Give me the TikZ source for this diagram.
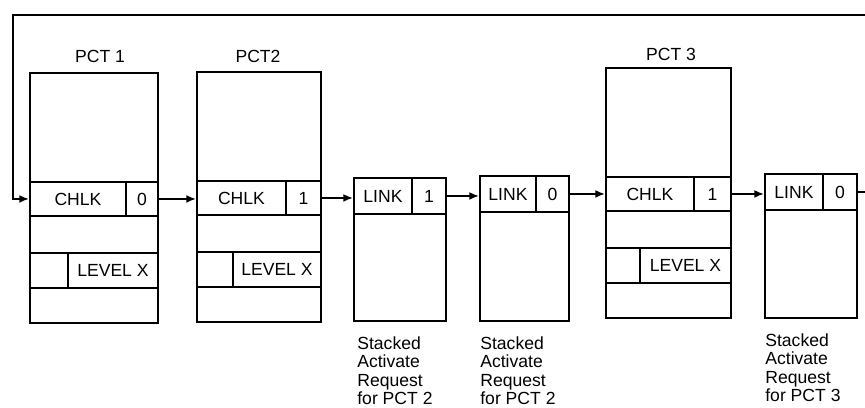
\documentclass[tikz,border=0pt]{standalone}
\usepackage{fontspec}
\setmainfont{Liberation Sans}
\usetikzlibrary{arrows.meta}

\tikzset{
  boxline/.style={draw, line width=1.1pt, inner sep=0pt, anchor=north west},
  cell/.style={boxline, font=\fontsize{10}{12}\selectfont},
  title/.style={font=\fontsize{10}{12}\selectfont},
  caption/.style={anchor=north west, align=left, inner sep=0pt, font=\fontsize{10}{10.6}\selectfont},
  link/.style={line width=1pt, -{Latex[length=5.5pt,width=4.5pt]}}
}

\begin{document}
\begin{tikzpicture}[x=0.02cm, y=-0.02cm]
    \useasboundingbox (0,0) rectangle (865,408);

    % PCT 1
    \node[title] (tA) at (100,56) {PCT 1};
    \node[boxline, minimum width=2.56cm, minimum height=5cm] (pctA) at (29,72) {};
    \node[cell, minimum width=1.92cm, minimum height=0.68cm] (chlkA) at (29,181) {CHLK};
    \node[cell, minimum width=0.64cm, minimum height=0.68cm] (flagA) at (125,181) {0};
    \node[cell, minimum width=0.76cm, minimum height=0.70cm] (spareA) at (29,252) {};
    \node[cell, minimum width=1.80cm, minimum height=0.70cm] (levelA) at (67,252) {LEVEL X};

    % PCT2
    \node[title] (tB) at (258,56) {PCT2};
    \node[boxline, minimum width=2.48cm, minimum height=5cm] (pctB) at (196,71) {};
    \node[cell, minimum width=1.78cm, minimum height=0.68cm] (chlkB) at (196,180) {CHLK};
    \node[cell, minimum width=0.70cm, minimum height=0.68cm] (flagB) at (285,180) {1};
    \node[cell, minimum width=0.72cm, minimum height=0.70cm] (spareB) at (196,251) {};
    \node[cell, minimum width=1.76cm, minimum height=0.70cm] (levelB) at (232,251) {LEVEL X};

    % Stacked request 1
    \node[boxline, minimum width=1.84cm, minimum height=2.86cm] (reqA) at (353,177) {};
    \node[cell, minimum width=1.16cm, minimum height=0.72cm] (linkA) at (353,177) {LINK};
    \node[cell, minimum width=0.68cm, minimum height=0.72cm] (lflagA) at (411,177) {1};
    \node[caption] (capA) at (357,336) {Stacked\\Activate\\Request\\for PCT 2};

    % Stacked request 2
    \node[boxline, minimum width=1.78cm, minimum height=2.90cm] (reqB) at (479,175) {};
    \node[cell, minimum width=1.12cm, minimum height=0.72cm] (linkB) at (479,175) {LINK};
    \node[cell, minimum width=0.66cm, minimum height=0.72cm] (lflagB) at (535,175) {0};
    \node[caption] (capB) at (480,336) {Stacked\\Activate\\Request\\for PCT 2};

    % PCT 3
    \node[title] (tC) at (671,54) {PCT 3};
    \node[boxline, minimum width=2.50cm, minimum height=5cm] (pctC) at (605,67) {};
    \node[cell, minimum width=1.76cm, minimum height=0.68cm] (chlkC) at (605,176) {CHLK};
    \node[cell, minimum width=0.74cm, minimum height=0.68cm] (flagC) at (693,176) {1};
    \node[cell, minimum width=0.68cm, minimum height=0.70cm] (spareC) at (605,247) {};
    \node[cell, minimum width=1.82cm, minimum height=0.70cm] (levelC) at (639,247) {LEVEL X};

    % Stacked request 3
    \node[boxline, minimum width=1.84cm, minimum height=2.88cm] (reqC) at (764,173) {};
    \node[cell, minimum width=1.16cm, minimum height=0.72cm] (linkC) at (764,173) {LINK};
    \node[cell, minimum width=0.68cm, minimum height=0.72cm] (lflagC) at (822,173) {0};
    \node[caption] (capC) at (765,333) {Stacked\\Activate\\Request\\for PCT 3};

    % Chain arrows
    \draw[link] (flagA.east) -- (flagA.east -| chlkB.west);
    \draw[link] (flagB.east) -- (flagB.east -| linkA.west);
    \draw[link] (lflagA.east) -- (lflagA.east -| linkB.west);
    \draw[link] (lflagB.east) -- (lflagB.east -| chlkC.west);
    \draw[link] (flagC.east) -- (flagC.east -| linkC.west);

    % Wrap around back to PCT 1
    \coordinate (loopR) at (880,15);
    \coordinate (loopL) at (13,15);
    \draw[link] (lflagC.east) -| (loopR) -- (loopL) |- (chlkA.west);

\end{tikzpicture}
\end{document}
